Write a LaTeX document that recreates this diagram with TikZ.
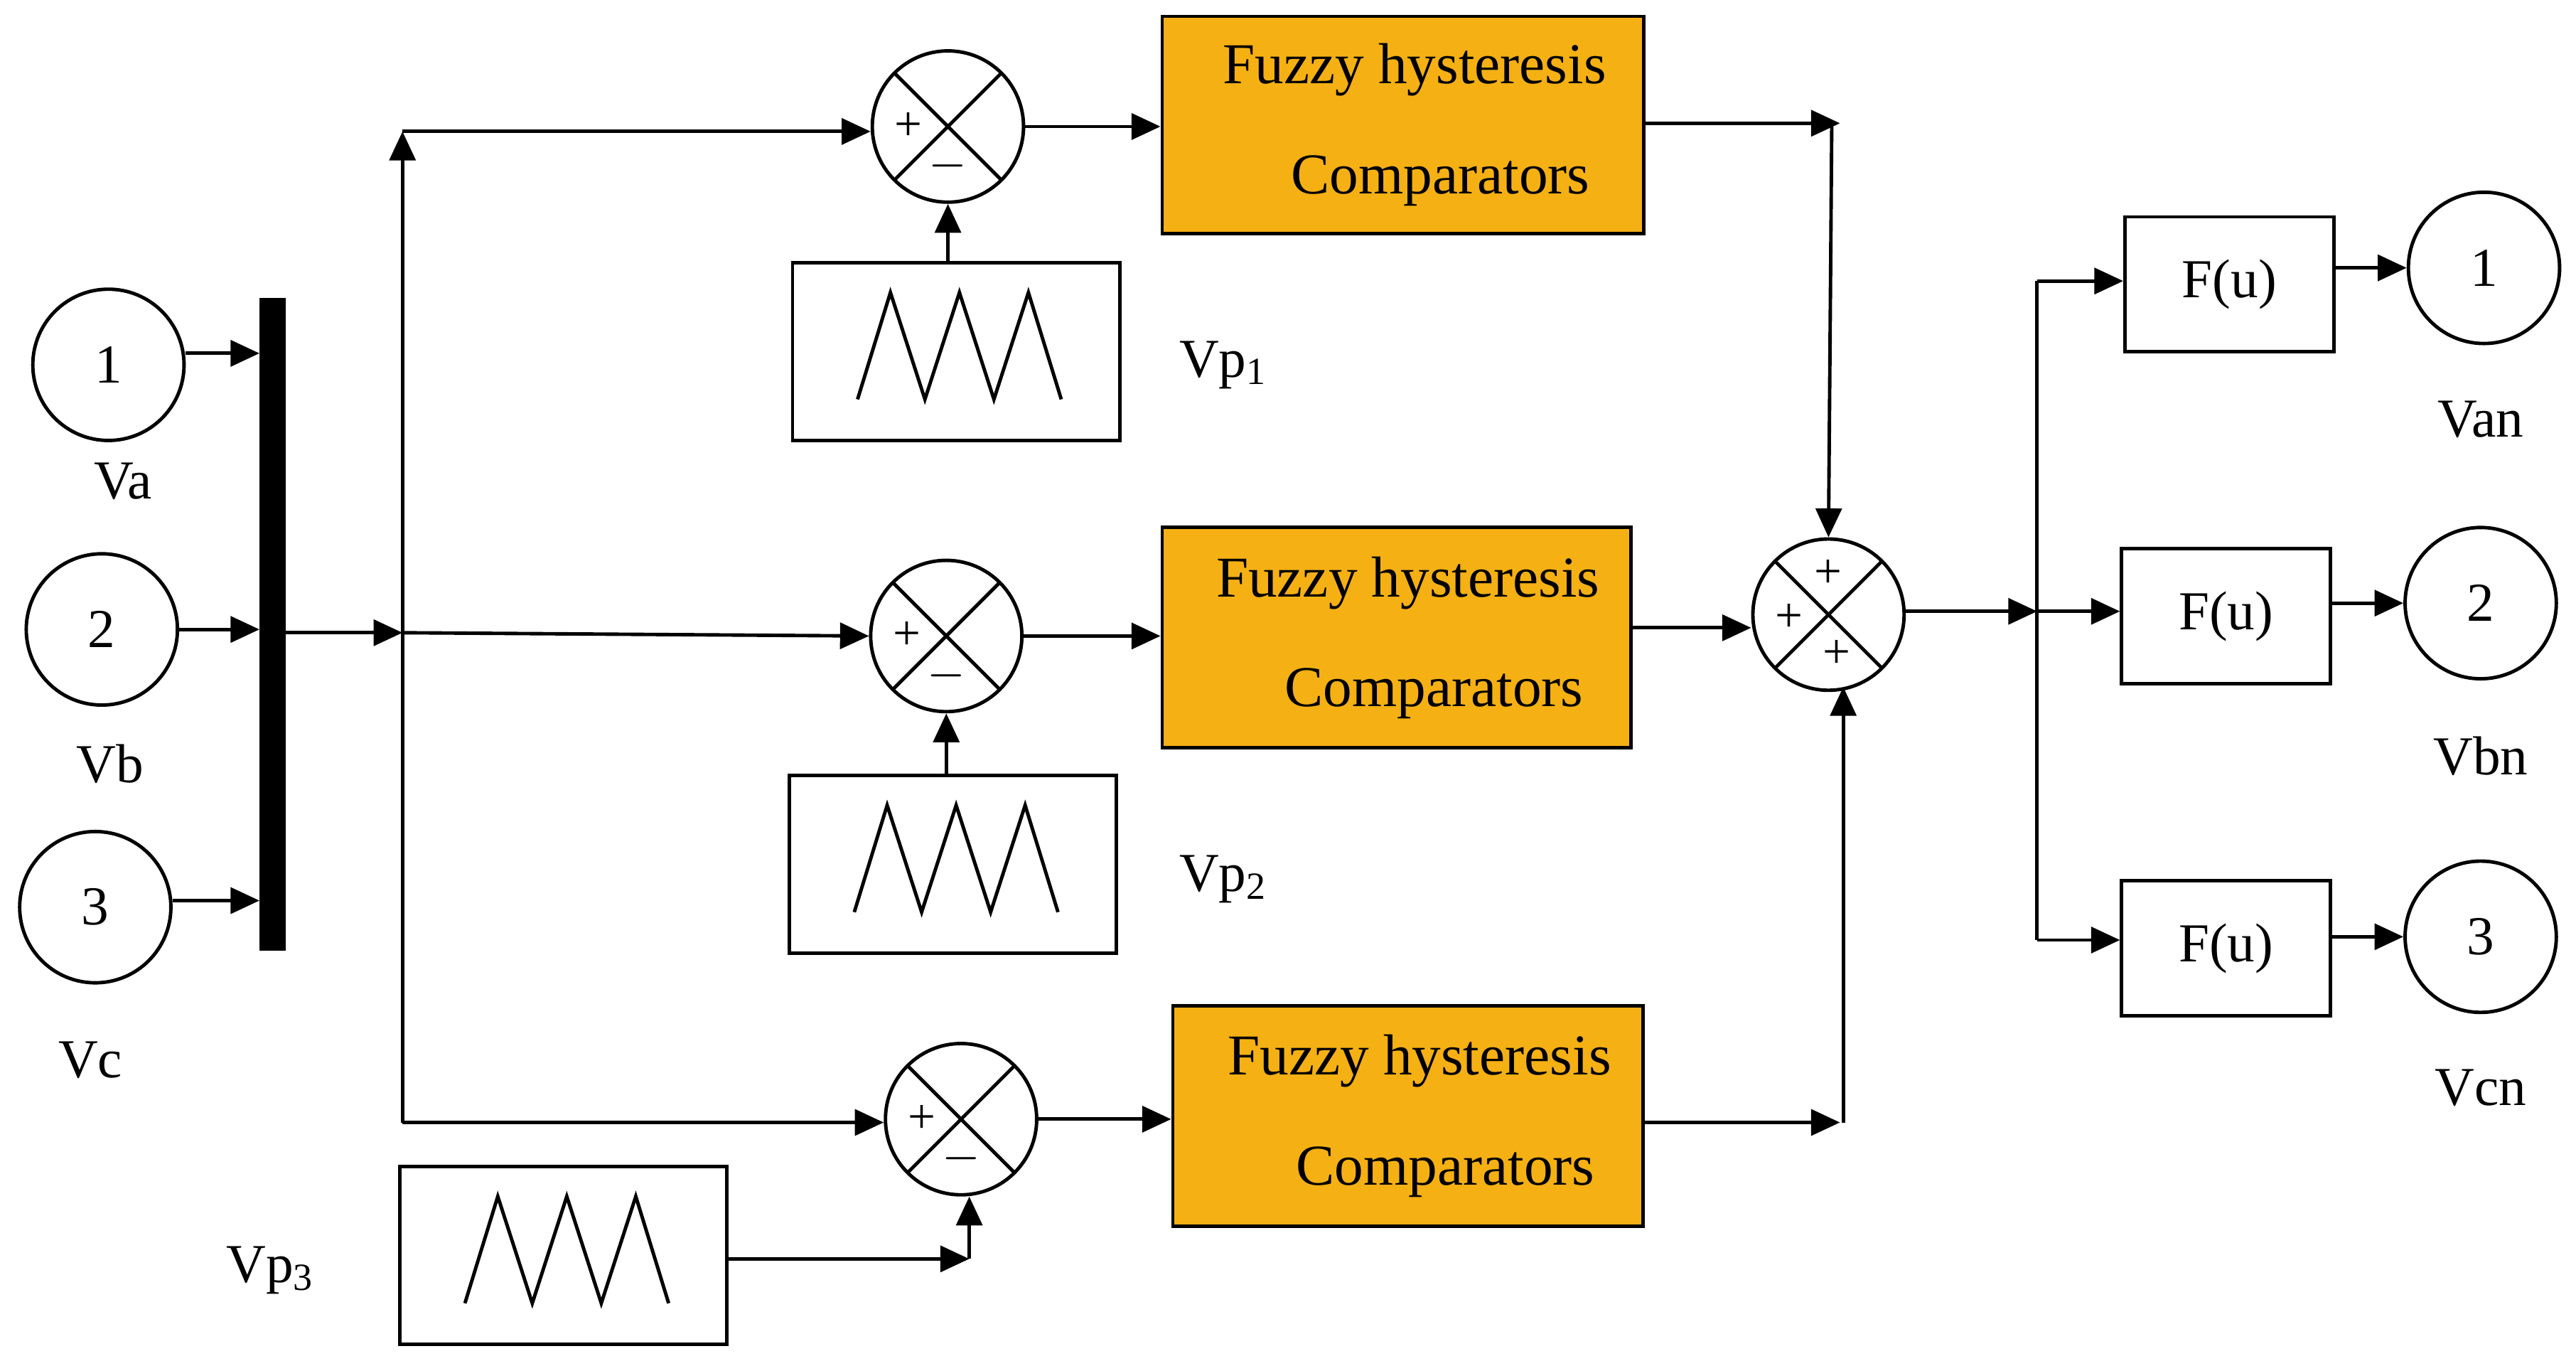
\documentclass[tikz,border=0pt]{standalone}
\usepackage{fontspec}
\setmainfont{Liberation Serif}
\usetikzlibrary{arrows.meta,calc}
\definecolor{fz}{RGB}{245,176,20}
\begin{document}
\begin{tikzpicture}[x=0.01cm,y=-0.01cm,font=\fontsize{9.5}{11}\selectfont,
 line width=0.6pt, >={Triangle[length=5pt,width=4.5pt]},
 io/.style={circle,draw,minimum size=0.92cm,inner sep=0pt},
 sum/.style={circle,draw,minimum size=0.92cm,inner sep=0pt,path picture={
   \draw (path picture bounding box.north west)--(path picture bounding box.south east)
         (path picture bounding box.north east)--(path picture bounding box.south west);}},
 fuzzy/.style={draw,fill=fz,align=center,font=\fontsize{10}{19}\selectfont},
 fu/.style={draw,minimum width=1.27cm,minimum height=0.82cm},
 tri/.style={draw,minimum width=1.99cm,minimum height=1.08cm},
 sg/.style={font=\fontsize{8.5}{9}\selectfont,inner sep=0pt}]
\useasboundingbox (0,0) rectangle (1568,828);
\newcommand{\zig}[1]{\draw ($(#1)+(-60,29)$)--++(20,-65)--++(21,65)--++(21,-65)--++(21,65)--++(21,-65)--++(20,65);}
% inputs
\node[io] (i1) at (66,222) {1}; \node at (75,293) {Va};
\node[io] (i2) at (62,383) {2}; \node at (67,465) {Vb};
\node[io] (i3) at (58,552) {3}; \node at (55,645) {Vc};
\node[draw,fill=black,minimum width=0.14cm,minimum height=3.95cm,inner sep=0pt] (bus) at (166,380) {};
\draw[->] (i1.east|-0,215) -- (bus.west|-0,215);
\draw[->] (i2.east) -- (bus.west|-i2);
\draw[->] (i3.east|-0,548) -- (bus.west|-0,548);
\coordinate (j) at (245,385);
\draw[->] (bus.east|-j) -- (j);
\coordinate (jt) at (245,80); \coordinate (jb) at (245,683);
\draw[->] (j) -- (jt);
\draw (j) -- (jb);
% sums
\node[sum] (s1) at (577,77) {}; \node[sum] (s2) at (576,387) {}; \node[sum] (s3) at (585,681) {};
\foreach \s in {s1,s2,s3}{\node[sg] at ($(\s)+(-24,0)$) {+}; \node[sg] at ($(\s)+(0,24)$) {$-$};}
\draw[->] (jt) -- (s1.west|-jt);
\draw[->] (j) -- (s2.west);
\draw[->] (jb) -- (s3.west|-jb);
% triangle boxes
\node[tri] (t1) at (582,214) {}; \node[tri] (t2) at (580,526) {}; \node[tri] (t3) at (343,764) {};
\zig{t1} \zig{t2} \zig{t3}
\node at (745,222) {Vp\textsubscript{1}};
\node at (745,535) {Vp\textsubscript{2}};
\node at (165,773) {Vp\textsubscript{3}};
\draw[->] (t1.north-|s1) -- (s1.south);
\draw[->] (t2.north-|s2) -- (s2.south);
\coordinate (c3) at (590,766);
\draw[->] (t3.east|-c3) -- (c3);
\draw[->] (c3) -- (s3.south-|c3);
% fuzzy
\node[fuzzy,minimum width=2.93cm,minimum height=1.32cm] (f1) at (854,76) {\hspace*{0.4em}Fuzzy hysteresis\\\hspace*{1.3em}Comparators};
\node[fuzzy,minimum width=2.85cm,minimum height=1.34cm] (f2) at (850,388) {\hspace*{0.4em}Fuzzy hysteresis\\\hspace*{1.3em}Comparators};
\node[fuzzy,minimum width=2.86cm,minimum height=1.34cm] (f3) at (857,679) {\hspace*{0.4em}Fuzzy hysteresis\\\hspace*{1.3em}Comparators};
\draw[->] (s1.east) -- (f1.west|-s1);
\draw[->] (s2.east) -- (f2.west|-s2);
\draw[->] (s3.east) -- (f3.west|-s3);
% big sum
\node[sum] (S) at (1113,374) {};
\node[sg] at (1113,349) {+}; \node[sg] at (1089,376) {+}; \node[sg] at (1118,398) {+};
\coordinate (a1) at (1120,75); \coordinate (a3) at (1120,683);
\draw[->] (f1.east|-a1) -- (a1);
\draw[->] (1115,75) -- (S.north);
\draw[->] (f2.east|-0,382) -- (S.west|-0,382);
\draw[->] (f3.east|-a3) -- (a3);
\draw[->] (1122,683) -- (1122,418);
% outputs
\coordinate (o) at (1240,372);
\draw[->] (S.east|-o) -- (o);
\draw (1240,171) -- (1240,572);
\node[fu] (u1) at (1357,173) {F(u)}; \node[fu] (u2) at (1355,375) {F(u)}; \node[fu] (u3) at (1355,577) {F(u)};
\draw[->] (1240,171) -- (u1.west|-0,171);
\draw[->] (o) -- (u2.west|-o);
\draw[->] (1240,572) -- (u3.west|-0,572);
\node[io] (o1) at (1512,163) {1}; \node at (1510,255) {Van};
\node[io] (o2) at (1510,367) {2}; \node at (1510,460) {Vbn};
\node[io] (o3) at (1510,570) {3}; \node at (1510,662) {Vcn};
\draw[->] (u1.east|-o1) -- (o1.west);
\draw[->] (u2.east|-o2) -- (o2.west);
\draw[->] (u3.east|-o3) -- (o3.west);
\end{tikzpicture}
\end{document}
